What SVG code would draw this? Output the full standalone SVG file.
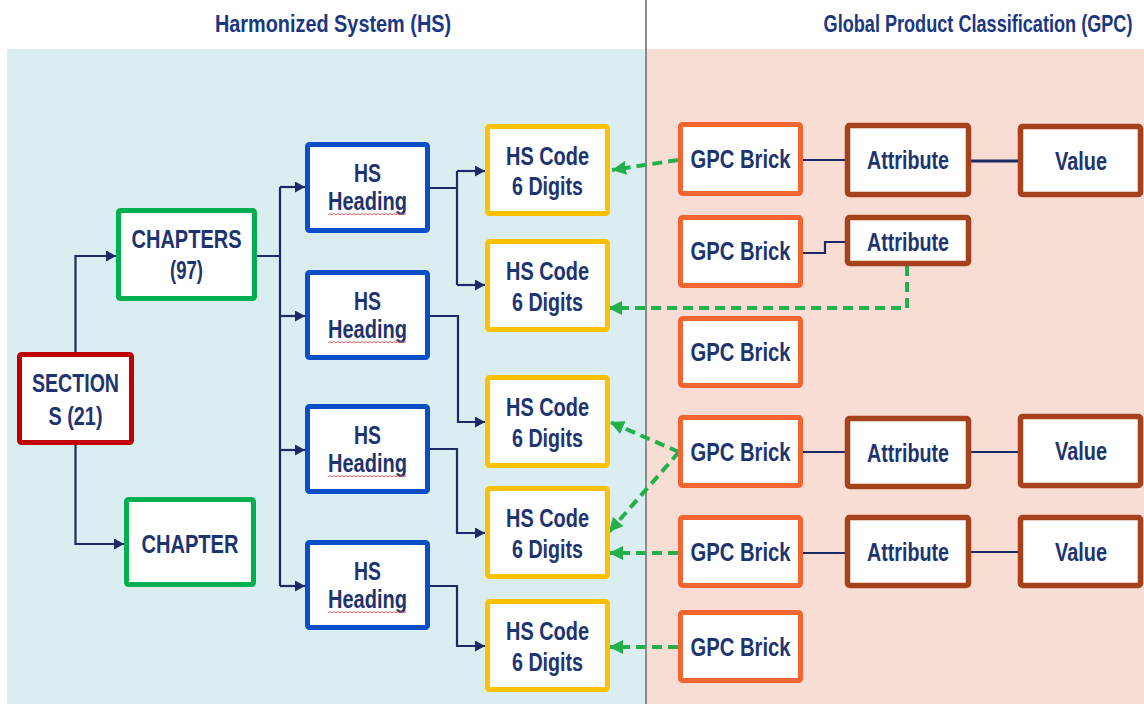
<svg xmlns="http://www.w3.org/2000/svg" width="1144" height="704" viewBox="0 0 1144 704">
<defs>
<style>
.t{font-family:"Liberation Sans",Arial,sans-serif;font-weight:bold;font-size:25px;fill:#1d3470;text-anchor:middle}
.ti{font-family:"Liberation Sans",Arial,sans-serif;font-weight:bold;font-size:23px;fill:#1a3784;text-anchor:middle}
.box{fill:#fff;stroke-width:5}
.red{stroke:#c00000}.grn{stroke:#00b050}.blu{stroke:#0a4fc8}.yel{stroke:#ffc000}.org{stroke:#f26531}.brn{stroke:#a5421c;stroke-width:5.5}
.nv{fill:none;stroke:#1b2a66;stroke-width:2.2}
.gd{fill:none;stroke:#22b04a;stroke-width:4;stroke-dasharray:10 6}
.wv{fill:none;stroke:#e06060;stroke-width:1}
</style>
<marker id="an" markerUnits="userSpaceOnUse" markerWidth="11" markerHeight="11" refX="10" refY="5.5" orient="auto"><path d="M0,0 L10,5.5 L0,11 z" fill="#1b2a66"/></marker>
<marker id="ag" markerUnits="userSpaceOnUse" markerWidth="15" markerHeight="14" refX="14" refY="7" orient="auto"><path d="M0,0 L14,7 L0,14 z" fill="#22b04a"/></marker>
</defs>
<rect x="0" y="0" width="1144" height="704" fill="#fff"/>
<rect x="7" y="49" width="639" height="655" fill="#daedf0"/>
<rect x="647" y="49" width="497" height="655" fill="#f8ddd4"/>
<line x1="646" y1="0" x2="646" y2="704" stroke="#8a8a8a" stroke-width="2"/>
<text class="ti" transform="translate(333,32) scale(0.75,1)" x="0" y="0" textLength="315" lengthAdjust="spacingAndGlyphs">Harmonized System (HS)</text>
<text class="ti" transform="translate(978,32) scale(0.72,1)" x="0" y="0" textLength="429" lengthAdjust="spacingAndGlyphs">Global Product Classification (GPC)</text>

<g id="connectors">
<path class="nv" d="M75.5,352 V256 H116" marker-end="url(#an)"/>
<path class="nv" d="M75.5,445 V544 H124" marker-end="url(#an)"/>
<path class="nv" d="M257,256 H280 M280,187 V586"/>
<path class="nv" d="M280,187 H305" marker-end="url(#an)"/>
<path class="nv" d="M280,316 H305" marker-end="url(#an)"/>
<path class="nv" d="M280,450 H305" marker-end="url(#an)"/>
<path class="nv" d="M280,586 H305" marker-end="url(#an)"/>
<path class="nv" d="M430,188 H457 M457,171 V285"/>
<path class="nv" d="M457,171 H485" marker-end="url(#an)"/>
<path class="nv" d="M457,285 H485" marker-end="url(#an)"/>
<path class="nv" d="M430,316 H458 V422 H485" marker-end="url(#an)"/>
<path class="nv" d="M430,449 H457 V533 H485" marker-end="url(#an)"/>
<path class="nv" d="M430,586 H457 V646 H485" marker-end="url(#an)"/>
<path class="nv" d="M803,160 H845"/>
<path class="nv" d="M971,161 H1018" style="stroke-width:3"/>
<path class="nv" d="M803,253 H825 V242 H845"/>
<path class="nv" d="M803,452 H845 M971,452 H1018"/>
<path class="nv" d="M803,553 H845 M971,552 H1018"/>
<path class="gd" d="M678,160 L612,170" marker-end="url(#ag)"/>
<path class="gd" d="M907,266 V308 H608" marker-end="url(#ag)"/>
<path class="gd" d="M679,452 L610,422" marker-end="url(#ag)"/>
<path class="gd" d="M679,452 L609,532" marker-end="url(#ag)"/>
<path class="gd" d="M678,553 H609" marker-end="url(#ag)"/>
<path class="gd" d="M678,647 H609" marker-end="url(#ag)"/>
</g>

<g id="section"><rect class="box red" x="19.5" y="354.5" width="112" height="88" rx="2"/>
<text class="t" x="75.5" y="392" textLength="87" lengthAdjust="spacingAndGlyphs">SECTION</text>
<text class="t" x="75.5" y="425" textLength="54" lengthAdjust="spacingAndGlyphs">S (21)</text></g>

<g id="chapters"><rect class="box grn" x="118.5" y="210.5" width="136" height="88" rx="2"/>
<text class="t" x="186.5" y="248" textLength="110" lengthAdjust="spacingAndGlyphs">CHAPTERS</text>
<text class="t" x="186.5" y="279" textLength="33" lengthAdjust="spacingAndGlyphs">(97)</text></g>

<g id="chapter"><rect class="box grn" x="126.5" y="499.5" width="127" height="85" rx="2"/>
<text class="t" x="190" y="553" textLength="97" lengthAdjust="spacingAndGlyphs">CHAPTER</text></g>

<g id="heading1"><rect class="box blu" x="307.5" y="144.5" width="120" height="86" rx="2"/>
<text class="t" x="367.5" y="182" textLength="27" lengthAdjust="spacingAndGlyphs">HS</text>
<text class="t" x="367.5" y="210" textLength="79" lengthAdjust="spacingAndGlyphs">Heading</text>
<path class="wv" d="M328,215 l2,-1.5 l2,1.5 l2,-1.5 l2,1.5 l2,-1.5 l2,1.5 l2,-1.5 l2,1.5 l2,-1.5 l2,1.5 l2,-1.5 l2,1.5 l2,-1.5 l2,1.5 l2,-1.5 l2,1.5 l2,-1.5 l2,1.5 l2,-1.5 l2,1.5 l2,-1.5 l2,1.5 l2,-1.5 l2,1.5 l2,-1.5 l2,1.5 l2,-1.5 l2,1.5 l2,-1.5 l2,1.5 l2,-1.5 l2,1.5 l2,-1.5 l2,1.5 l2,-1.5 l2,1.5 l2,-1.5 l2,1.5 l2,-1.5"/></g>

<g id="heading2"><rect class="box blu" x="307.5" y="272.5" width="120" height="85" rx="2"/>
<text class="t" x="367.5" y="310" textLength="27" lengthAdjust="spacingAndGlyphs">HS</text>
<text class="t" x="367.5" y="338" textLength="79" lengthAdjust="spacingAndGlyphs">Heading</text>
<path class="wv" d="M328,343 l2,-1.5 l2,1.5 l2,-1.5 l2,1.5 l2,-1.5 l2,1.5 l2,-1.5 l2,1.5 l2,-1.5 l2,1.5 l2,-1.5 l2,1.5 l2,-1.5 l2,1.5 l2,-1.5 l2,1.5 l2,-1.5 l2,1.5 l2,-1.5 l2,1.5 l2,-1.5 l2,1.5 l2,-1.5 l2,1.5 l2,-1.5 l2,1.5 l2,-1.5 l2,1.5 l2,-1.5 l2,1.5 l2,-1.5 l2,1.5 l2,-1.5 l2,1.5 l2,-1.5 l2,1.5 l2,-1.5 l2,1.5 l2,-1.5"/></g>

<g id="heading3"><rect class="box blu" x="307.5" y="406.5" width="120" height="85" rx="2"/>
<text class="t" x="367.5" y="444" textLength="27" lengthAdjust="spacingAndGlyphs">HS</text>
<text class="t" x="367.5" y="472" textLength="79" lengthAdjust="spacingAndGlyphs">Heading</text>
<path class="wv" d="M328,477 l2,-1.5 l2,1.5 l2,-1.5 l2,1.5 l2,-1.5 l2,1.5 l2,-1.5 l2,1.5 l2,-1.5 l2,1.5 l2,-1.5 l2,1.5 l2,-1.5 l2,1.5 l2,-1.5 l2,1.5 l2,-1.5 l2,1.5 l2,-1.5 l2,1.5 l2,-1.5 l2,1.5 l2,-1.5 l2,1.5 l2,-1.5 l2,1.5 l2,-1.5 l2,1.5 l2,-1.5 l2,1.5 l2,-1.5 l2,1.5 l2,-1.5 l2,1.5 l2,-1.5 l2,1.5 l2,-1.5 l2,1.5 l2,-1.5"/></g>

<g id="heading4"><rect class="box blu" x="307.5" y="542.5" width="120" height="85" rx="2"/>
<text class="t" x="367.5" y="580" textLength="27" lengthAdjust="spacingAndGlyphs">HS</text>
<text class="t" x="367.5" y="608" textLength="79" lengthAdjust="spacingAndGlyphs">Heading</text>
<path class="wv" d="M328,613 l2,-1.5 l2,1.5 l2,-1.5 l2,1.5 l2,-1.5 l2,1.5 l2,-1.5 l2,1.5 l2,-1.5 l2,1.5 l2,-1.5 l2,1.5 l2,-1.5 l2,1.5 l2,-1.5 l2,1.5 l2,-1.5 l2,1.5 l2,-1.5 l2,1.5 l2,-1.5 l2,1.5 l2,-1.5 l2,1.5 l2,-1.5 l2,1.5 l2,-1.5 l2,1.5 l2,-1.5 l2,1.5 l2,-1.5 l2,1.5 l2,-1.5 l2,1.5 l2,-1.5 l2,1.5 l2,-1.5 l2,1.5 l2,-1.5"/></g>

<g id="hscode1"><rect class="box yel" x="487.5" y="126.5" width="120" height="87" rx="2"/>
<text class="t" x="547.5" y="165" textLength="83" lengthAdjust="spacingAndGlyphs">HS Code</text>
<text class="t" x="547.5" y="195" textLength="71" lengthAdjust="spacingAndGlyphs">6 Digits</text></g>
<g id="hscode2"><rect class="box yel" x="487.5" y="241.5" width="120" height="88" rx="2"/>
<text class="t" x="547.5" y="280" textLength="83" lengthAdjust="spacingAndGlyphs">HS Code</text>
<text class="t" x="547.5" y="311" textLength="71" lengthAdjust="spacingAndGlyphs">6 Digits</text></g>
<g id="hscode3"><rect class="box yel" x="487.5" y="377.5" width="120" height="88" rx="2"/>
<text class="t" x="547.5" y="416" textLength="83" lengthAdjust="spacingAndGlyphs">HS Code</text>
<text class="t" x="547.5" y="447" textLength="71" lengthAdjust="spacingAndGlyphs">6 Digits</text></g>
<g id="hscode4"><rect class="box yel" x="487.5" y="488.5" width="120" height="88" rx="2"/>
<text class="t" x="547.5" y="527" textLength="83" lengthAdjust="spacingAndGlyphs">HS Code</text>
<text class="t" x="547.5" y="558" textLength="71" lengthAdjust="spacingAndGlyphs">6 Digits</text></g>
<g id="hscode5"><rect class="box yel" x="487.5" y="601.5" width="120" height="88" rx="2"/>
<text class="t" x="547.5" y="640" textLength="83" lengthAdjust="spacingAndGlyphs">HS Code</text>
<text class="t" x="547.5" y="671" textLength="71" lengthAdjust="spacingAndGlyphs">6 Digits</text></g>

<g id="brick1"><rect class="box org" x="680.5" y="124.5" width="120" height="69" rx="2"/>
<text class="t" x="740.5" y="168" textLength="100" lengthAdjust="spacingAndGlyphs">GPC Brick</text></g>
<g id="brick2"><rect class="box org" x="680.5" y="217.5" width="120" height="68" rx="2"/>
<text class="t" x="740.5" y="260" textLength="100" lengthAdjust="spacingAndGlyphs">GPC Brick</text></g>
<g id="brick3"><rect class="box org" x="680.5" y="318.5" width="120" height="67" rx="2"/>
<text class="t" x="740.5" y="361" textLength="100" lengthAdjust="spacingAndGlyphs">GPC Brick</text></g>
<g id="brick4"><rect class="box org" x="680.5" y="417.5" width="120" height="68" rx="2"/>
<text class="t" x="740.5" y="461" textLength="100" lengthAdjust="spacingAndGlyphs">GPC Brick</text></g>
<g id="brick5"><rect class="box org" x="680.5" y="517.5" width="120" height="68" rx="2"/>
<text class="t" x="740.5" y="561" textLength="100" lengthAdjust="spacingAndGlyphs">GPC Brick</text></g>
<g id="brick6"><rect class="box org" x="680.5" y="612.5" width="120" height="68" rx="2"/>
<text class="t" x="740.5" y="656" textLength="100" lengthAdjust="spacingAndGlyphs">GPC Brick</text></g>

<g id="attr1"><rect class="box brn" x="847.5" y="125.5" width="121" height="69" rx="2"/>
<text class="t" x="908" y="169" textLength="82" lengthAdjust="spacingAndGlyphs">Attribute</text></g>
<g id="attr2"><rect class="box brn" x="847.5" y="217.5" width="121" height="46" rx="2"/>
<text class="t" x="908" y="251" textLength="82" lengthAdjust="spacingAndGlyphs">Attribute</text></g>
<g id="attr3"><rect class="box brn" x="847.5" y="418.5" width="121" height="68" rx="2"/>
<text class="t" x="908" y="462" textLength="82" lengthAdjust="spacingAndGlyphs">Attribute</text></g>
<g id="attr4"><rect class="box brn" x="847.5" y="517.5" width="121" height="68" rx="2"/>
<text class="t" x="908" y="561" textLength="82" lengthAdjust="spacingAndGlyphs">Attribute</text></g>

<g id="value1"><rect class="box brn" x="1020.5" y="126.5" width="120" height="68" rx="2"/>
<text class="t" x="1081" y="170" textLength="52" lengthAdjust="spacingAndGlyphs">Value</text></g>
<g id="value2"><rect class="box brn" x="1020.5" y="416.5" width="120" height="69" rx="2"/>
<text class="t" x="1081" y="460" textLength="52" lengthAdjust="spacingAndGlyphs">Value</text></g>
<g id="value3"><rect class="box brn" x="1020.5" y="517.5" width="120" height="68" rx="2"/>
<text class="t" x="1081" y="561" textLength="52" lengthAdjust="spacingAndGlyphs">Value</text></g>
</svg>
